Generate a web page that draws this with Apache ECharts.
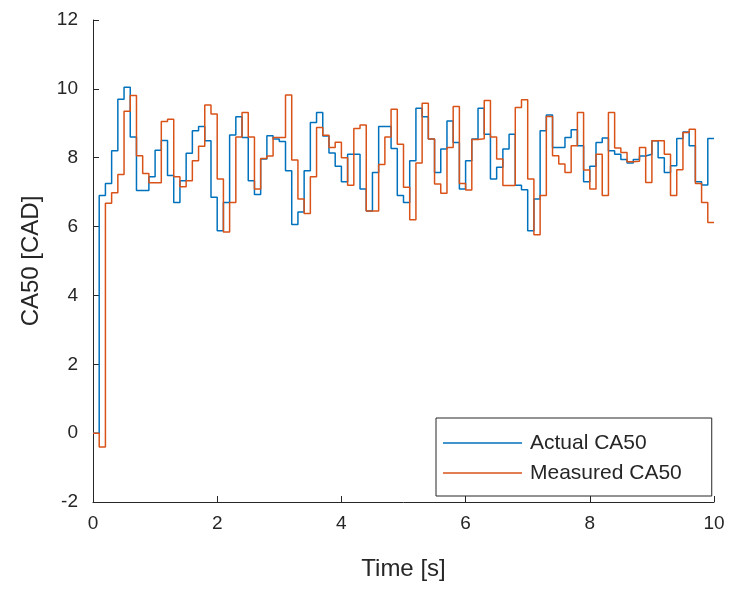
<!DOCTYPE html>
<html>
<head>
<meta charset="utf-8">
<script src="https://cdn.jsdelivr.net/npm/echarts@6/dist/echarts.min.js"></script>
<style>html,body{margin:0;padding:0;background:#fff;}#c{width:735px;height:592px;}</style>
</head>
<body>
<div id="c"></div>
<script>
// Sample time step (s): each value holds for one step
const timeStep = 0.1;
const xTicks = [0, 2, 4, 6, 8, 10];
const yTicks = [-2, 0, 2, 4, 6, 8, 10, 12];
const seriesNames = ['Actual CA50', 'Measured CA50'];

// Actual CA50 [CAD], one value per 0.1 s step
const actualCA50 = [
  0, 6.9, 7.25, 8.2, 9.7, 10.05, 8.6, 7.05, 7.05, 7.45,
  8.22, 8.5, 7.48, 6.7, 7.33, 8.13, 8.78, 8.91, 8.49, 6.85,
  5.88, 6.7, 8.66, 9.19, 8.59, 7.33, 6.93, 7.96, 8.64, 8.54,
  8.47, 7.62, 6.06, 6.42, 7.62, 9.02, 9.31, 8.63, 8.14, 7.75,
  7.3, 8.1, 8.1, 7.09, 6.45, 7.57, 8.91, 8.91, 8.27, 6.9,
  6.7, 7.91, 9.44, 9.19, 8.54, 7.57, 8.25, 9.07, 8.44, 7.09,
  7.91, 8.54, 9.44, 8.68, 7.38, 7.72, 8.25, 8.68, 7.2, 7.07,
  5.88, 6.8, 8.78, 9.24, 8.3, 8.3, 8.59, 8.81, 8.35, 7.3,
  7.75, 8.44, 8.57, 8.2, 8.1, 7.95, 7.85, 7.95, 8.05, 8.1,
  8.49, 8.0, 7.57, 7.77, 8.56, 8.75, 8.35, 7.3, 7.21, 8.56
];

// Measured CA50 [CAD], one value per 0.1 s step
const measuredCA50 = [
  0, -0.4, 6.68, 6.98, 7.51, 9.35, 9.81, 8.06, 7.54, 7.27,
  7.27, 9.05, 9.12, 7.45, 7.16, 7.33, 7.91, 8.33, 9.53, 9.27,
  7.38, 5.84, 6.7, 8.6, 9.31, 8.6, 7.09, 7.98, 8.05, 8.59,
  8.59, 9.82, 7.93, 6.8, 6.38, 7.45, 8.88, 8.65, 8.3, 8.45,
  8.0, 7.2, 8.85, 8.95, 6.45, 6.45, 7.8, 8.6, 9.41, 8.39,
  7.14, 6.2, 7.85, 9.58, 8.54, 7.24, 6.97, 8.3, 9.49, 7.25,
  7.06, 8.53, 8.55, 9.66, 8.6, 7.96, 7.19, 7.19, 9.46, 9.68,
  7.38, 5.76, 6.9, 9.2, 8.06, 7.82, 7.57, 8.35, 9.31, 7.64,
  7.09, 8.1, 6.9, 9.31, 8.28, 8.15, 7.88, 7.9, 8.3, 7.28,
  8.49, 8.49, 8.1, 6.9, 7.65, 8.73, 8.83, 7.25, 6.7, 6.12
];

function toSteps(vals) {
  const pts = vals.map((v, i) => [+(i * timeStep).toFixed(2), v]);
  pts.push([+(vals.length * timeStep).toFixed(2), vals[vals.length - 1]]);
  return pts;
}

const axisColor = '#262626';
const FONT = '"Liberation Sans", Arial, sans-serif';
const chart = echarts.init(document.getElementById('c'), null, {renderer: 'canvas'});
chart.setOption({
  animation: false,
  backgroundColor: '#ffffff',
  grid: {left: 93, right: 21, top: 20, bottom: 90, containLabel: false},
  xAxis: {
    type: 'value', min: xTicks[0], max: xTicks[xTicks.length - 1], interval: 2,
    name: 'Time [s]', nameLocation: 'middle', nameGap: 55,
    nameTextStyle: {fontFamily: FONT, fontSize: 24, color: axisColor},
    axisLine: {show: true, onZero: false, lineStyle: {color: axisColor, width: 1}},
    axisTick: {show: true, inside: true, length: 6, lineStyle: {color: axisColor}},
    axisLabel: {fontFamily: FONT, fontSize: 19, color: axisColor, margin: 12},
    splitLine: {show: false}
  },
  yAxis: {
    type: 'value', min: yTicks[0], max: yTicks[yTicks.length - 1], interval: 2,
    name: 'CA50 [CAD]', nameLocation: 'middle', nameGap: 50, nameRotate: 90,
    nameTextStyle: {fontFamily: FONT, fontSize: 24, color: axisColor},
    axisLine: {show: true, onZero: false, lineStyle: {color: axisColor, width: 1}},
    axisTick: {show: true, inside: true, length: 6, lineStyle: {color: axisColor}},
    axisLabel: {fontFamily: FONT, fontSize: 19, color: axisColor, margin: 15},
    splitLine: {show: false}
  },
  legend: {
    orient: 'vertical', left: 436, top: 418,
    padding: [14, 30, 12, 7], itemGap: 8,
    icon: 'rect', itemWidth: 79, itemHeight: 1.5,
    backgroundColor: '#ffffff', borderColor: axisColor, borderWidth: 1, borderRadius: 0,
    textStyle: {fontFamily: FONT, fontSize: 21, color: axisColor, lineHeight: 22, padding: [0, 0, 0, 3]},
    data: seriesNames
  },
  series: [
    {name: seriesNames[0], type: 'line', step: 'end', showSymbol: false, symbol: 'none',
     data: toSteps(actualCA50), lineStyle: {color: '#0072BD', width: 1.5}, itemStyle: {color: '#0072BD'}},
    {name: seriesNames[1], type: 'line', step: 'end', showSymbol: false, symbol: 'none',
     data: toSteps(measuredCA50), lineStyle: {color: '#D95319', width: 1.5}, itemStyle: {color: '#D95319'}}
  ]
});
</script>
</body>
</html>
